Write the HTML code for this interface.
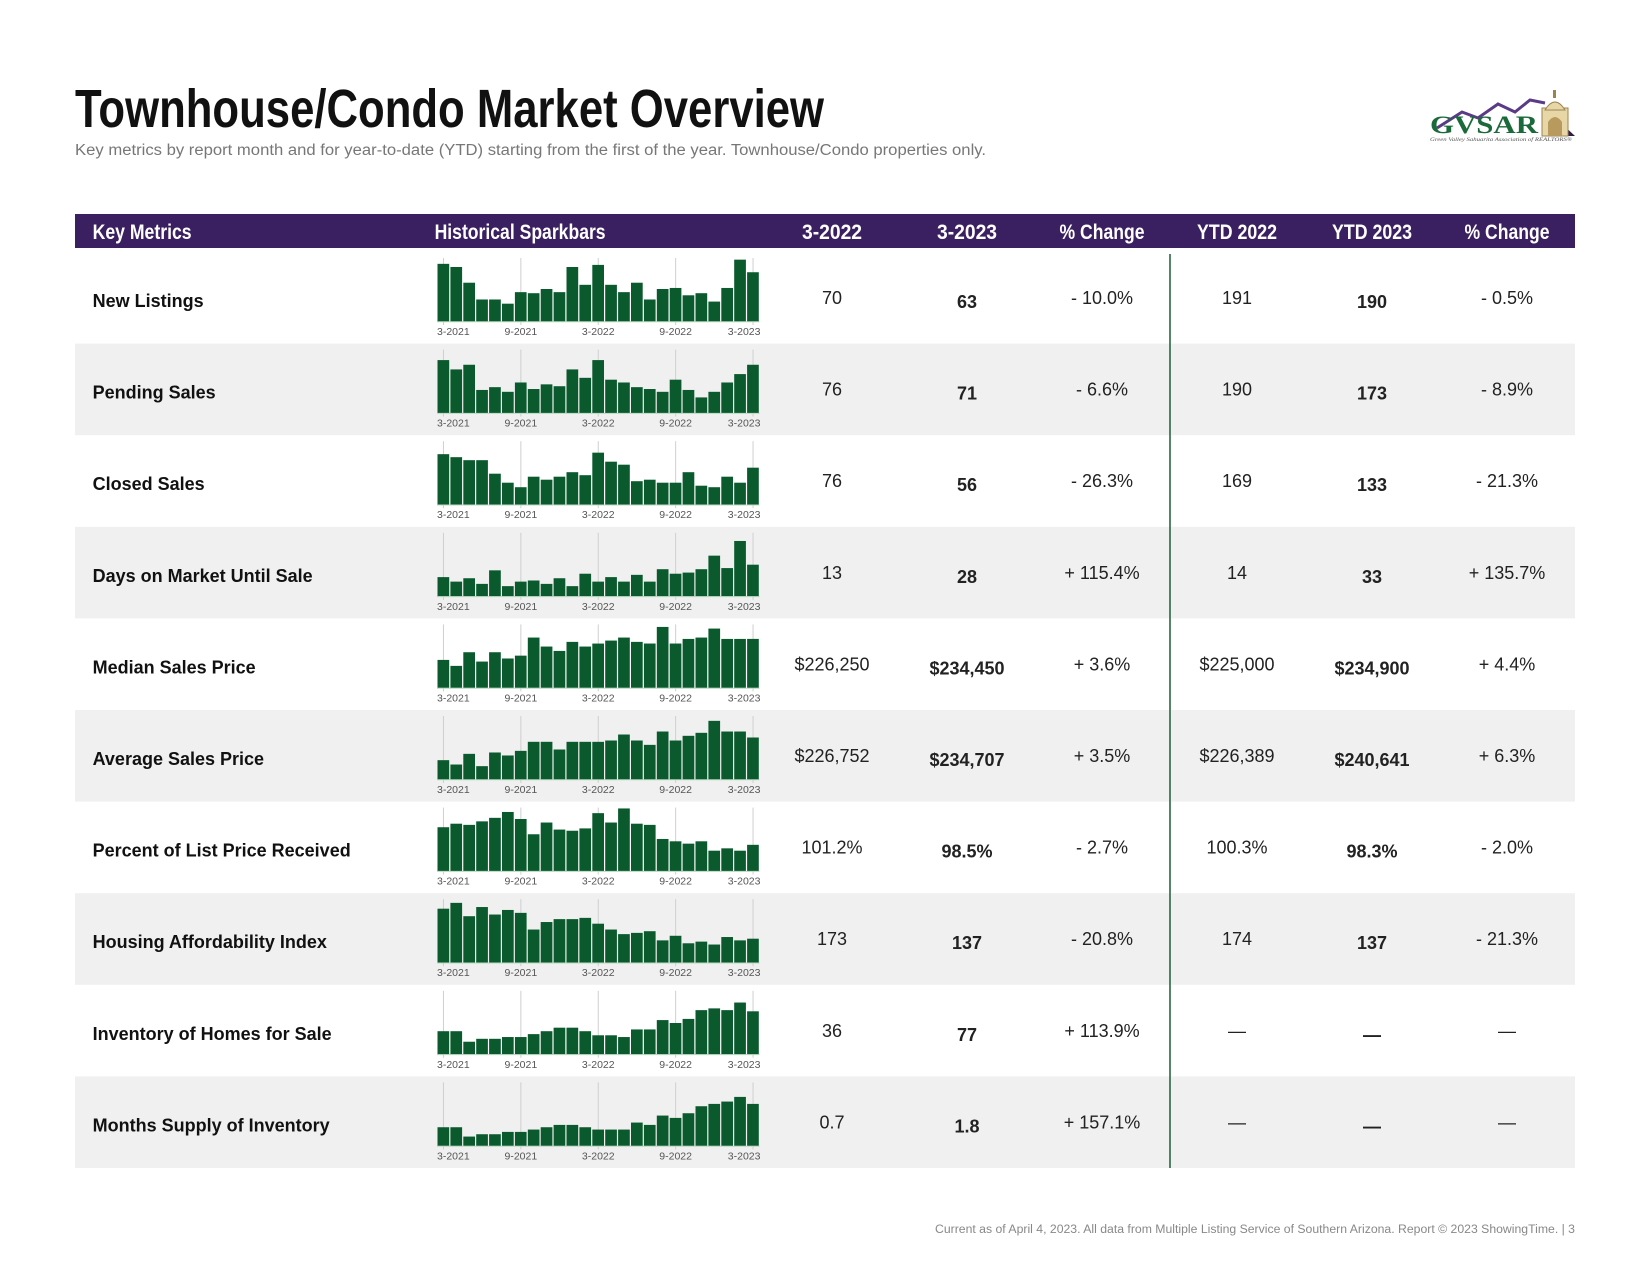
<!DOCTYPE html>
<html><head><meta charset="utf-8"><title>Townhouse/Condo Market Overview</title>
<style>
html,body{margin:0;padding:0;background:#fff;}
svg{display:block;}
text{font-family:"Liberation Sans",sans-serif;}
.cond{font-family:"Liberation Sans Narrow","Liberation Sans",sans-serif;font-weight:bold;}
</style></head>
<body>
<svg id="page" width="1650" height="1275" viewBox="0 0 1650 1275" xmlns="http://www.w3.org/2000/svg">
  <text class="cond" x="75" y="127" font-size="54" fill="#111" textLength="749" lengthAdjust="spacingAndGlyphs">Townhouse/Condo Market Overview</text>
  <text x="75" y="155" font-size="15.5" fill="#777" textLength="911" lengthAdjust="spacingAndGlyphs">Key metrics by report month and for year-to-date (YTD) starting from the first of the year. Townhouse/Condo properties only.</text>

  <g>
    <polyline points="1437,128 1462,112 1478,118 1498,104 1515,112 1530,100 1545,103" fill="none" stroke="#5b3a86" stroke-width="3"/>
    <polygon points="1545,108 1575,136 1550,136" fill="#2c1d4a"/>
    <rect x="1542" y="108" width="26" height="28" fill="#e8d7a6" stroke="#9c8352" stroke-width="1"/>
    <path d="M1545,110 Q1555,94 1565,110 Z" fill="#e8d7a6" stroke="#9c8352" stroke-width="1"/>
    <rect x="1553" y="90" width="3" height="8" fill="#9c8352"/>
    <path d="M1548,136 L1548,122 Q1555,112 1562,122 L1562,136 Z" fill="#b99a5e"/>
    <text x="1430" y="133" font-family="Liberation Serif,serif" font-weight="bold" font-size="25" fill="#1a6a3a" textLength="108" lengthAdjust="spacingAndGlyphs" style="font-family:'Liberation Serif',serif">GVSAR</text>
    <text x="1430" y="141" font-style="italic" font-size="5.5" fill="#555" textLength="142" lengthAdjust="spacingAndGlyphs" style="font-family:'Liberation Serif',serif">Green Valley Sahuarita Association of REALTORS®</text>
  </g>

  <g id="header">
    <rect x="75" y="214" width="1500" height="34" fill="#3a2060"/>
  </g>
  <g id="rows"></g>
  <line x1="1170" y1="254" x2="1170" y2="1168" stroke="#1f5b3a" stroke-width="1.5"/>

  <text x="1575" y="1233" font-size="11.5" fill="#888" text-anchor="end" textLength="640" lengthAdjust="spacingAndGlyphs">Current as of April 4, 2023. All data from Multiple Listing Service of Southern Arizona. Report © 2023 ShowingTime.  |  3</text>
</svg>

<script>
// ---- table data ----
var headers = ["Key Metrics","Historical Sparkbars","3-2022","3-2023","% Change","YTD 2022","YTD 2023","% Change"];
var metricNames = ["New Listings","Pending Sales","Closed Sales","Days on Market Until Sale","Median Sales Price","Average Sales Price","Percent of List Price Received","Housing Affordability Index","Inventory of Homes for Sale","Months Supply of Inventory"];
var col3_2022 = ["70","76","76","13","$226,250","$226,752","101.2%","173","36","0.7"];
var col3_2023 = ["63","71","56","28","$234,450","$234,707","98.5%","137","77","1.8"];
var colChange = ["- 10.0%","- 6.6%","- 26.3%","+ 115.4%","+ 3.6%","+ 3.5%","- 2.7%","- 20.8%","+ 113.9%","+ 157.1%"];
var colYtd2022 = ["191","190","169","14","$225,000","$226,389","100.3%","174","—","—"];
var colYtd2023 = ["190","173","133","33","$234,900","$240,641","98.3%","137","—","—"];
var colYtdChange = ["- 0.5%","- 8.9%","- 21.3%","+ 135.7%","+ 4.4%","+ 6.3%","- 2.0%","- 21.3%","—","—"];

// ---- sparkbar data (25 months, 3-2021 .. 3-2023) ----
var tickLabels = ["3-2021","9-2021","3-2022","9-2022","3-2023"];
var tickIndex = [0,6,12,18,24];
var sparkNewListings = [71,68,53,37,37,33,44,43,47,44,68,51,70,51,44,53,37,47,48,41,43,35,48,75,63];
var sparkPending = [76,66,71,44,47,42,52,45,50,48,66,57,76,55,52,47,45,42,55,44,36,42,52,61,71];
var sparkClosed = [74,70,66,66,48,36,30,44,40,44,50,46,76,64,60,38,40,36,36,50,32,30,44,36,56];
var sparkDom = [17,13,16,11,23,9,13,14,11,16,9,20,13,17,13,19,13,24,20,21,24,36,25,49,28];
var sparkMedian = [197500,187000,211000,194600,211000,200000,205000,236800,221000,213300,229200,221000,226250,231500,236800,229200,226300,255500,226300,234400,236800,252600,234400,234400,234450];
var sparkAverage = [193100,185100,204700,182100,207200,201700,210200,226800,226800,212700,226800,226800,226752,229200,240200,229200,221200,245700,229200,237800,243300,265300,245700,245700,234707];
var sparkPctList = [100.0,100.3,100.2,100.5,100.8,101.3,100.7,99.4,100.4,99.8,99.7,99.9,101.2,100.4,101.6,100.3,100.2,99.0,98.8,98.6,98.8,98.0,98.2,98.0,98.5];
var sparkHai = [209,223,191,213,195,206,199,159,177,184,184,187,173,159,148,151,155,133,144,126,130,123,141,133,137];
var sparkInventory = [43,43,25,30,30,33,33,38,43,49,49,43,36,36,33,46,46,62,57,64,79,82,79,92,77];
var sparkMonthsSupply = [0.8,0.8,0.4,0.5,0.5,0.6,0.6,0.7,0.8,0.9,0.9,0.8,0.7,0.7,0.7,1.0,0.9,1.3,1.2,1.4,1.7,1.8,1.9,2.1,1.8];
var sparkMin = [16,19.2,6.7,0,148300,157600,96.26,79.4,3.5,0];
var sparkMax = [76.1,86.7,90.6,55.8,259050,273270,101.63,230.6,111.2,2.7];

var sparkSeries = [sparkNewListings,sparkPending,sparkClosed,sparkDom,sparkMedian,sparkAverage,sparkPctList,sparkHai,sparkInventory,sparkMonthsSupply];

var NS = "http://www.w3.org/2000/svg";
function mk(tag, attrs, parent){
  var e = document.createElementNS(NS, tag);
  for (var k in attrs) e.setAttribute(k, attrs[k]);
  parent.appendChild(e);
  return e;
}

var colX = [832,967,1102,1237,1372,1507];
var ROW0 = 252, ROWH = 91.6;
var SX0 = 437, SX1 = 759.5;
var STEP = (SX1 - SX0) / 25;
function xScale(i){ return SX0 + i * STEP; }
function yScale(v, r, rowTop){
  var base = rowTop + 69.5, H = 63;
  var t = (v - sparkMin[r]) / (sparkMax[r] - sparkMin[r]);
  if (t < 0) t = 0;
  return base - t * H;
}

// header
var hdr = document.getElementById('header');
var hx = [92.6, 434.6].concat(colX);
var hW = [99, 171, 60, 60, 85, 80, 80, 85];
var hNames = ['header-key-metrics','header-historical-sparkbars','header-3-2022','header-3-2023','header-pct-change','header-ytd-2022','header-ytd-2023','header-ytd-pct-change'];
for (var h = 0; h < headers.length; h++){
  var ht = mk('text', {x: hx[h], y: 239, 'font-size': 21, fill: '#fff', class: 'cond', 'text-anchor': h < 2 ? 'start' : 'middle', textLength: hW[h], lengthAdjust: 'spacingAndGlyphs'}, hdr);
  
  
  ht.textContent = headers[h];
}

var rowsG = document.getElementById('rows');
for (var r = 0; r < metricNames.length; r++){
  var rowTop = ROW0 + r * ROWH;
  var g = mk('g', {}, rowsG);
  
  
  if (r % 2 === 1){
    var bg = mk('rect', {x: 75, y: rowTop, width: 1500, height: ROWH, fill: '#f0f0f0'}, g);
    
    
  }
  var lab = mk('text', {x: 92.6, y: rowTop + 55, 'font-size': 18, 'font-weight': 'bold', fill: '#111'}, g);
  
  
  lab.textContent = metricNames[r];

  var sg = mk('g', {}, g);
  
  
  for (var t = 0; t < tickIndex.length; t++){
    var gx = xScale(tickIndex[t]) + STEP/2;
    var gl = mk('line', {x1: gx, y1: rowTop + 6, x2: gx, y2: rowTop + 73, stroke: '#cfcfcf', 'stroke-width': 1}, sg);
    
    
  }
  var ser = sparkSeries[r];
  for (var i = 0; i < ser.length; i++){
    var y = yScale(ser[i], r, rowTop);
    var b = mk('rect', {x: xScale(i) + 0.5, y: y, width: STEP - 1.2, height: rowTop + 69.5 - y, fill: '#0b5a2e'}, sg);
    
    
  }
  var bl = mk('line', {x1: SX0, y1: rowTop + 69.8, x2: SX1, y2: rowTop + 69.8, stroke: '#b9d8c0', 'stroke-width': 1}, sg);
  
  
  for (var t2 = 0; t2 < tickLabels.length; t2++){
    var tx = xScale(tickIndex[t2]) + STEP/2, anchor = 'middle';
    if (t2 === 0){ tx = SX0; anchor = 'start'; }
    if (t2 === tickLabels.length - 1){ tx = SX1 + 1; anchor = 'end'; }
    var tl = mk('text', {x: tx, y: rowTop + 83, 'font-size': 10.5, fill: '#555', 'text-anchor': anchor}, sg);
    
    
    tl.textContent = tickLabels[t2];
  }

  var vals = [col3_2022[r], col3_2023[r], colChange[r], colYtd2022[r], colYtd2023[r], colYtdChange[r]];
  var vnames = ['value-3-2022','value-3-2023','value-pct-change','value-ytd-2022','value-ytd-2023','value-ytd-pct-change'];
  for (var c = 0; c < 6; c++){
    var bold = (c === 1 || c === 4);
    var vt = mk('text', {x: colX[c], y: rowTop + (bold ? 56 : 52), 'font-size': 18, 'font-weight': bold ? 'bold' : 'normal', fill: '#222', 'text-anchor': 'middle'}, g);
    
    
    vt.textContent = vals[c];
  }
}
</script>
</body></html>
